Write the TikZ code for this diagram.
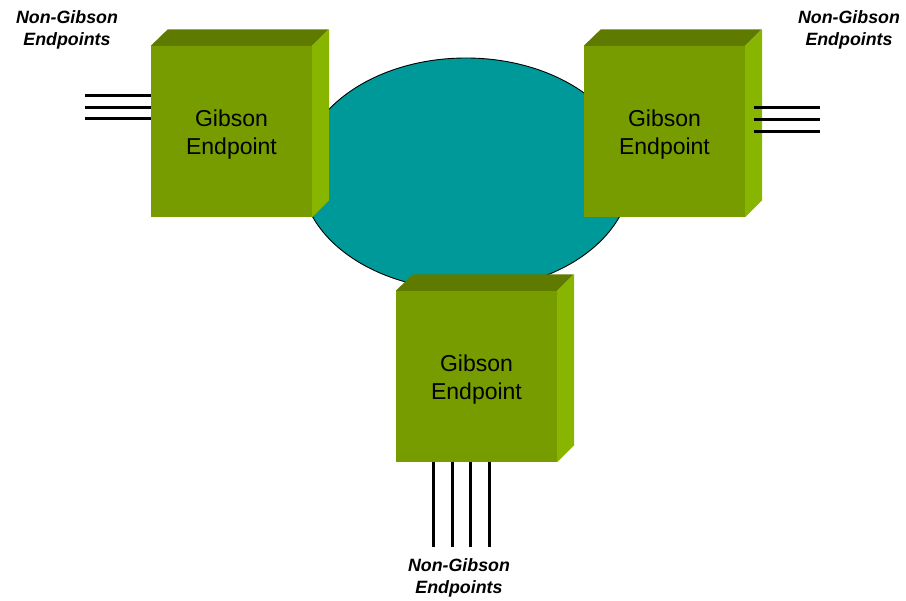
\documentclass[tikz,border=0pt]{standalone}
\usepackage{fontspec}
\setmainfont{Liberation Sans}
\usetikzlibrary{shapes.geometric}
\definecolor{facefront}{HTML}{779C00}
\definecolor{facetop}{HTML}{5E7B00}
\definecolor{faceside}{HTML}{88B500}
\definecolor{cloudteal}{HTML}{009999}
\begin{document}
\begin{tikzpicture}[x=1pt,y=-1pt,
  frontface/.style={fill=facefront, minimum width=161pt, minimum height=171pt, inner sep=0pt},
  boxtext/.style={align=center, inner sep=0pt, font=\fontsize{23}{28}\selectfont},
  topface/.style={fill=facetop},
  sideface/.style={fill=faceside},
  wire/.style={line width=3pt, black},
  lbl/.style={align=center, inner sep=0pt, font=\bfseries\itshape\fontsize{17.8}{22}\selectfont},
  cloud/.style={ellipse, draw=black, line width=0.9pt, fill=cloudteal,
    minimum width=330pt, minimum height=232pt, inner sep=0pt}]
\useasboundingbox (0,0) rectangle (906,601);

% network in the middle
\node[cloud] (net) at (466,174) {};

% a Gibson endpoint as a shaded cube: front face node plus top and side faces
\newcommand{\cubefaces}[1]{%
  \fill[topface] (#1.north west) -- ++(17,-16.5) -- ++(161,0) -- (#1.north east) -- cycle;
  \fill[sideface] (#1.north east) -- ++(17,-16.5) -- ++(0,171) -- (#1.south east) -- cycle;}

\node[frontface] (g1) at (231.5,131.5) {};
\cubefaces{g1}
\node[boxtext] (g1t) at ([yshift=-3.5pt]g1.center) {Gibson\\Endpoint};
\node[frontface] (g2) at (664.5,131.5) {};
\cubefaces{g2}
\node[boxtext] (g2t) at ([yshift=-3.5pt]g2.center) {Gibson\\Endpoint};
\node[frontface] (g3) at (476.5,376.5) {};
\cubefaces{g3}
\node[boxtext] (g3t) at ([yshift=-3.5pt]g3.center) {Gibson\\Endpoint};

% non-Gibson attachments
\coordinate (a1) at (85,96);
\coordinate (a2) at (85,107.5);
\coordinate (a3) at (85,119);
\foreach \c in {a1,a2,a3} \draw[wire] (\c) -- (\c -| g1.west);

\coordinate (b1) at (820,107.7);
\coordinate (b2) at (820,119.3);
\coordinate (b3) at (820,131.7);
\foreach \c in {b1,b2,b3} \draw[wire] (\c) -- ([xshift=9pt]\c -| g2.east);

\coordinate (c1) at (433.3,547);
\coordinate (c2) at (452.3,547);
\coordinate (c3) at (470.7,547);
\coordinate (c4) at (489.3,547);
\foreach \c in {c1,c2,c3,c4} \draw[wire] (\c) -- (\c |- g3.south);

% labels
\node[lbl] (la) at (67,30) {Non-Gibson\\Endpoints};
\node[lbl] (lb) at (849,30) {Non-Gibson\\Endpoints};
\node[lbl] (lc) at (459,578) {Non-Gibson\\Endpoints};
\end{tikzpicture}
\end{document}
